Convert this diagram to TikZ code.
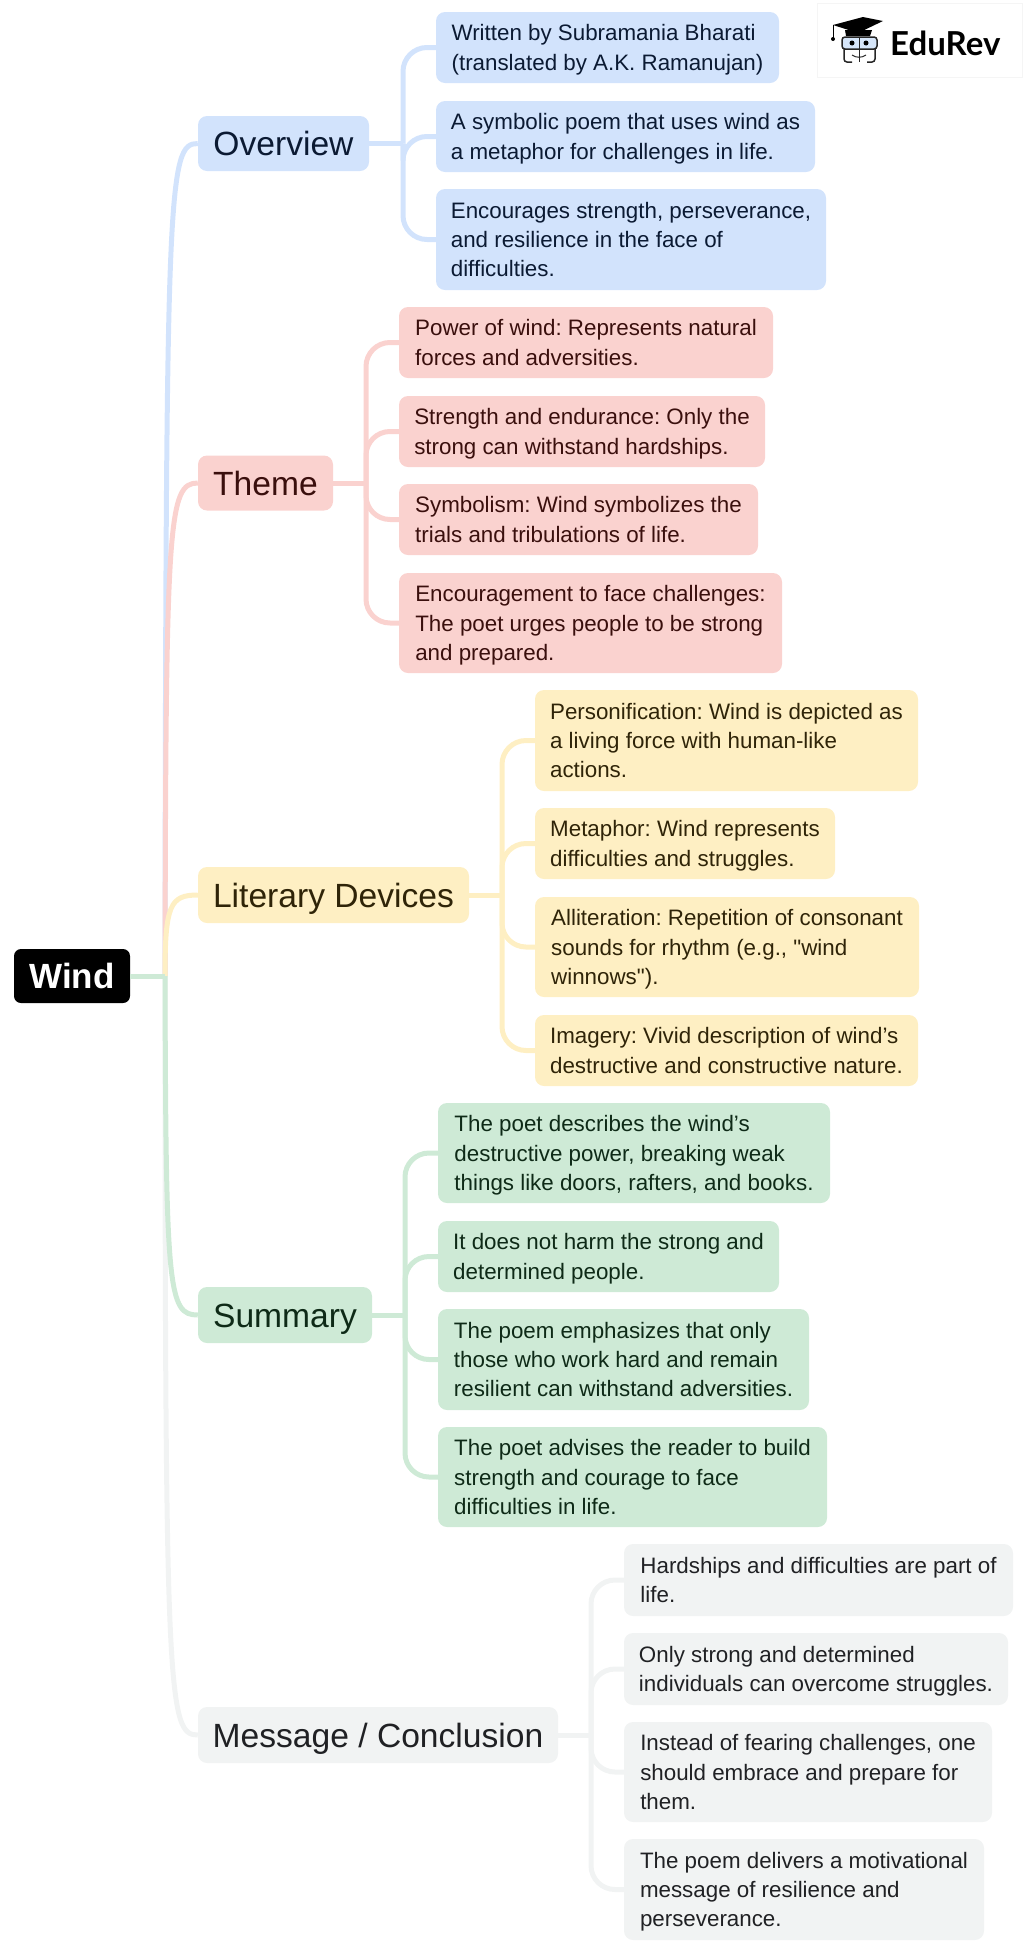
\documentclass[tikz,border=0pt]{standalone}
\usepackage{xcolor}
\usepackage{fontspec}
\setmainfont{Liberation Sans}[Ligatures=TeXOff]
\newfontfamily\logofont{Lato}
\definecolor{bluefill}{HTML}{D2E3FC}
\definecolor{redfill}{HTML}{FAD2CF}
\definecolor{yellowfill}{HTML}{FEEFC3}
\definecolor{greenfill}{HTML}{CEEAD6}
\definecolor{greyfill}{HTML}{F1F3F3}
\definecolor{glassfill}{HTML}{D6E6FA}
\definecolor{bluetext}{HTML}{0B1A33}
\definecolor{redtext}{HTML}{3A0F0D}
\definecolor{yellowtext}{HTML}{2F2408}
\definecolor{greentext}{HTML}{0E2A17}
\definecolor{greytext}{HTML}{202124}
\tikzset{
	box/.style={rounded corners=9pt, inner sep=0pt, align=left, text depth=0pt},
	branch/.style={box, text height=24pt, font=\fontsize{33.6pt}{40pt}\selectfont},
	leaf/.style={box, font=\fontsize{22.35pt}{29.3pt}\selectfont\frenchspacing},
	bluebox/.style={fill=bluefill, text=bluetext},
	redbox/.style={fill=redfill, text=redtext},
	yellowbox/.style={fill=yellowfill, text=yellowtext},
	greenbox/.style={fill=greenfill, text=greentext},
	greybox/.style={fill=greyfill, text=greytext},
	link/.style={line width=5pt},
	stem/.style={line width=5pt, rounded corners=24pt},
}

\begin{document}
\begin{tikzpicture}[x=1pt, y=-1pt]
	\useasboundingbox (0,0) rectangle (1024,1952);

	\node[box, fill=black, text=white, font=\fontsize{35pt}{40pt}\selectfont\bfseries, rounded corners=7pt, minimum width=116pt, minimum height=54pt] (wind) at (72,976) {Wind};
	\coordinate (trunk) at (165,976);

	\node[branch, bluebox, minimum width=171pt, minimum height=55pt] (overview) at (283.5,143.5) {Overview};
	\node[branch, redbox, minimum width=135pt, minimum height=55pt] (theme) at (265.5,483) {Theme};
	\node[branch, yellowbox, minimum width=271pt, minimum height=56pt] (devices) at (333.5,895) {Literary Devices};
	\node[branch, greenbox, minimum width=174pt, minimum height=56pt] (summary) at (285,1315) {Summary};
	\node[branch, greybox, minimum width=360pt, minimum height=56pt] (message) at (378,1735) {Message / Conclusion};

	\node[leaf, bluebox, minimum width=343pt, minimum height=71pt] (written) at (607.5,47.5) {Written by Subramania Bharati\\(translated by A.K. Ramanujan)};
	\node[leaf, bluebox, minimum width=379pt, minimum height=71pt] (symbolic) at (625.5,136.5) {A symbolic poem that uses wind as\\a metaphor for challenges in life.};
	\node[leaf, bluebox, minimum width=390pt, minimum height=101pt] (encourages) at (631,239.5) {Encourages strength, perseverance,\\and resilience in the face of\\difficulties.};

	\node[leaf, redbox, minimum width=374pt, minimum height=71pt] (power) at (586,342.5) {Power of wind: Represents natural\\forces and adversities.};
	\node[leaf, redbox, minimum width=366pt, minimum height=71pt] (strength) at (582,431.5) {Strength and endurance: Only the\\strong can withstand hardships.};
	\node[leaf, redbox, minimum width=359pt, minimum height=71pt] (symbolism) at (578.5,519.5) {Symbolism: Wind symbolizes the\\trials and tribulations of life.};
	\node[leaf, redbox, minimum width=383pt, minimum height=100pt] (encouragement) at (590.5,623) {Encouragement to face challenges:\\The poet urges people to be strong\\and prepared.};

	\node[leaf, yellowbox, minimum width=383pt, minimum height=101pt] (personification) at (726.5,740.5) {Personification: Wind is depicted as\\a living force with human-like\\actions.};
	\node[leaf, yellowbox, minimum width=300pt, minimum height=71pt] (metaphor) at (685,843.5) {Metaphor: Wind represents\\difficulties and struggles.};
	\node[leaf, yellowbox, minimum width=384pt, minimum height=100pt] (alliteration) at (727,947) {Alliteration: Repetition of consonant\\sounds for rhythm (e.g., "wind\\winnows").};
	\node[leaf, yellowbox, minimum width=383pt, minimum height=71pt] (imagery) at (726.5,1050.5) {Imagery: Vivid description of wind’s\\destructive and constructive nature.};

	\node[leaf, greenbox, minimum width=392pt, minimum height=100pt] (describes) at (634,1153) {The poet describes the wind’s\\destructive power, breaking weak\\things like doors, rafters, and books.};
	\node[leaf, greenbox, minimum width=341pt, minimum height=71pt] (harm) at (608.5,1256.5) {It does not harm the strong and\\determined people.};
	\node[leaf, greenbox, minimum width=371pt, minimum height=101pt] (emphasizes) at (623.5,1359.5) {The poem emphasizes that only\\those who work hard and remain\\resilient can withstand adversities.};
	\node[leaf, greenbox, minimum width=389pt, minimum height=100pt] (advises) at (632.5,1477) {The poet advises the reader to build\\strength and courage to face\\difficulties in life.};

	\node[leaf, greybox, minimum width=389pt, minimum height=72pt] (hardships) at (818.5,1580) {Hardships and difficulties are part of\\life.};
	\node[leaf, greybox, minimum width=384pt, minimum height=72pt] (determined) at (816,1669) {Only strong and determined\\individuals can overcome struggles.};
	\node[leaf, greybox, minimum width=368pt, minimum height=100pt] (fearing) at (808,1772) {Instead of fearing challenges, one\\should embrace and prepare for\\them.};
	\node[leaf, greybox, minimum width=360pt, minimum height=101pt] (delivers) at (804,1889.5) {The poem delivers a motivational\\message of resilience and\\perseverance.};

	\draw[link, bluefill] (trunk) .. controls (166,180) and (168,143.5) .. (overview.west);
	\draw[link, greyfill] (trunk) .. controls (165,1700) and (168,1735) .. (message.west);
	\draw[link, redfill] (trunk) .. controls (166,520) and (168,483) .. (theme.west);
	\draw[link, yellowfill] (trunk) .. controls (165,905) and (170,895) .. (devices.west);
	\draw[link, greenfill] (trunk) .. controls (166,1290) and (168,1315) .. (summary.west);
	\draw[link, greenfill] (wind.east) -- (trunk);

	\coordinate (overviewstem) at (403,143.5);
	\draw[link, bluefill] (overview.east) -- (overviewstem);
	\draw[stem, bluefill] (overviewstem) |- (written.west);
	\draw[stem, bluefill] (overviewstem) |- (symbolic.west);
	\draw[stem, bluefill] (overviewstem) |- (encourages.west);

	\coordinate (themestem) at (366,483);
	\draw[link, redfill] (theme.east) -- (themestem);
	\draw[stem, redfill] (themestem) |- (power.west);
	\draw[stem, redfill] (themestem) |- (strength.west);
	\draw[stem, redfill] (themestem) |- (symbolism.west);
	\draw[stem, redfill] (themestem) |- (encouragement.west);

	\coordinate (devicesstem) at (502,895);
	\draw[link, yellowfill] (devices.east) -- (devicesstem);
	\draw[stem, yellowfill] (devicesstem) |- (personification.west);
	\draw[stem, yellowfill] (devicesstem) |- (metaphor.west);
	\draw[stem, yellowfill] (devicesstem) |- (alliteration.west);
	\draw[stem, yellowfill] (devicesstem) |- (imagery.west);

	\coordinate (summarystem) at (405,1315);
	\draw[link, greenfill] (summary.east) -- (summarystem);
	\draw[stem, greenfill] (summarystem) |- (describes.west);
	\draw[stem, greenfill] (summarystem) |- (harm.west);
	\draw[stem, greenfill] (summarystem) |- (emphasizes.west);
	\draw[stem, greenfill] (summarystem) |- (advises.west);

	\coordinate (messagestem) at (591,1735);
	\draw[link, greyfill] (message.east) -- (messagestem);
	\draw[stem, greyfill] (messagestem) |- (hardships.west);
	\draw[stem, greyfill] (messagestem) |- (determined.west);
	\draw[stem, greyfill] (messagestem) |- (fearing.west);
	\draw[stem, greyfill] (messagestem) |- (delivers.west);

	\draw[black!4, line width=0.7pt] (817,3) rectangle (1022,77);
	\node[inner sep=0pt, anchor=base west, font=\fontsize{33pt}{36pt}\selectfont\logofont\bfseries] (logotext) at (890,55) {EduRev};
	\draw[black!85, line width=1.5pt, fill=glassfill, rounded corners=3pt] (842,37) rectangle (877,49);
	\draw[black!85, line width=1.5pt, rounded corners=3pt] (844,49) -- (844,62) -- (852,62);
	\draw[black!85, line width=1.5pt, rounded corners=3pt] (875,49) -- (875,62) -- (867,62);
	\draw[black!85, line width=1pt] (859,37) -- (859,62);
	\draw[black!85, line width=1pt] (852,55) .. controls (856,58) and (862,58) .. (866,55);
	\fill[black] (852,43) circle (2.5pt) (866,43) circle (2.5pt);
	\fill[black] (833,25) -- (863,17) -- (883,21) -- (858,33) -- cycle;
	\fill[black] (845,30) -- (872,30) -- (870,36) -- (846,36) -- cycle;
	\draw[black, line width=1pt] (833,25) -- (833,38);
	\fill[black] (833,39) circle (2pt);
\end{tikzpicture}
\end{document}
